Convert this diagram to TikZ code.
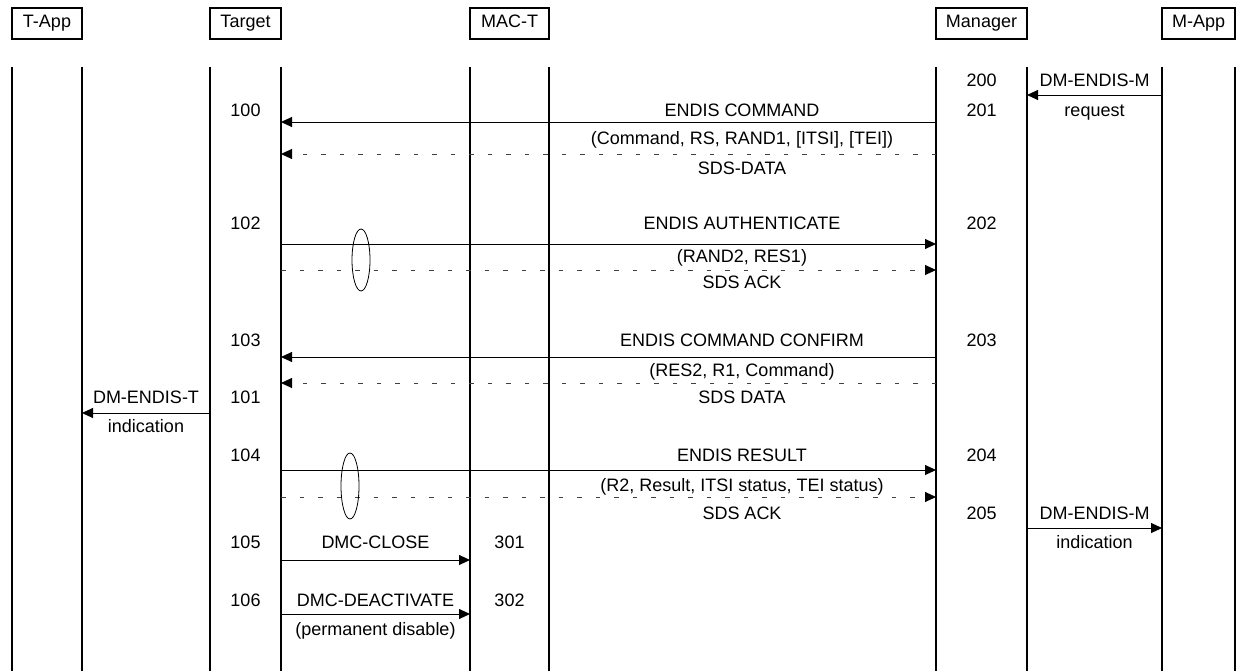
\documentclass[tikz,border=0pt]{standalone}
\usepackage{fontspec}
\setmainfont{Liberation Sans}
\usetikzlibrary{arrows.meta,shapes.geometric}
\begin{document}
\begin{tikzpicture}[x=1pt,y=-1pt,
  hdr/.style={draw, line width=1.8pt, inner sep=0pt, minimum height=31pt,
    text height=13pt, text depth=4pt, font=\fontsize{18}{21}\selectfont},
  life/.style={line width=2.2pt},
  msg/.style={line width=0.9pt, -{Triangle[length=11pt,width=10pt]}},
  ack/.style={line width=0.9pt, draw=black!75, dash pattern=on 4.5pt off 14pt,
    -{Triangle[length=11pt,width=10pt,color=black]}},
  lbl/.style={anchor=base, inner sep=0pt, font=\fontsize{18}{21}\selectfont},
  loopmark/.style={draw, ellipse, line width=0.8pt, inner sep=0pt}
]
\useasboundingbox (0,0) rectangle (1238,671);

% headers
\node[hdr, minimum width=70pt] (tapp) at (47,23.5) {T-App};
\node[hdr, minimum width=71pt] (tgt) at (245.5,23.5) {Target};
\node[hdr, minimum width=79pt] (mac) at (509.5,23.5) {MAC-T};
\node[hdr, minimum width=91pt] (mgr) at (981.5,23.5) {Manager};
\node[hdr, minimum width=73pt] (mapp) at (1198.5,23.5) {M-App};

% lifelines
\foreach \n/\x in {tappL/12, tappR/82, tgtL/210, tgtR/281, macL/470, macR/549,
                   mgrL/936, mgrR/1027, mappL/1162, mappR/1235} {
  \coordinate (\n-top) at (\x,67);
  \coordinate (\n-bot) at (\x,671);
  \draw[life] (\n-top) -- (\n-bot);
}

% message rows
\coordinate (r95) at (0,95);
\coordinate (r122) at (0,122);
\coordinate (r154) at (0,154);
\coordinate (r244) at (0,244);
\coordinate (r270) at (0,270);
\coordinate (r357) at (0,357);
\coordinate (r383) at (0,383);
\coordinate (r413) at (0,413);
\coordinate (r470) at (0,470);
\coordinate (r497) at (0,497);
\coordinate (r528) at (0,528);
\coordinate (r560) at (0,560);
\coordinate (r614) at (0,614);

\draw[msg] (mappL-top |- r95) -- (mgrR-top |- r95);
\draw[msg] (mgrL-top |- r122) -- (tgtR-top |- r122);
\draw[ack] (mgrL-top |- r154) -- (tgtR-top |- r154);
\draw[msg] (tgtR-top |- r244) -- (mgrL-top |- r244);
\draw[ack] (tgtR-top |- r270) -- (mgrL-top |- r270);
\draw[msg] (mgrL-top |- r357) -- (tgtR-top |- r357);
\draw[ack] (mgrL-top |- r383) -- (tgtR-top |- r383);
\draw[msg] (tgtL-top |- r413) -- (tappR-top |- r413);
\draw[msg] (tgtR-top |- r470) -- (mgrL-top |- r470);
\draw[ack] (tgtR-top |- r497) -- (mgrL-top |- r497);
\draw[msg] (mgrR-top |- r528) -- (mappL-top |- r528);
\draw[msg] (tgtR-top |- r560) -- (macL-top |- r560);
\draw[msg] (tgtR-top |- r614) -- (macL-top |- r614);

% loop marks
\node[loopmark, minimum width=18pt, minimum height=62pt] (lp1) at (361,260) {};
\node[loopmark, minimum width=18pt, minimum height=66pt] (lp2) at (350,486) {};

% labels: step numbers
\node[lbl] (n200) at (981.5,86.5) {200};
\node[lbl] (n100) at (245.5,116.5) {100};
\node[lbl] (n201) at (981.5,116.5) {201};
\node[lbl] (n102) at (245.5,229.5) {102};
\node[lbl] (n202) at (981.5,229.5) {202};
\node[lbl] (n103) at (245.5,346.5) {103};
\node[lbl] (n203) at (981.5,346.5) {203};
\node[lbl] (n101) at (245.5,403.5) {101};
\node[lbl] (n104) at (245.5,461.5) {104};
\node[lbl] (n204) at (981.5,461.5) {204};
\node[lbl] (n205) at (981.5,519.5) {205};
\node[lbl] (n105) at (245.5,548.5) {105};
\node[lbl] (n301) at (509.5,548.5) {301};
\node[lbl] (n106) at (245.5,606.5) {106};
\node[lbl] (n302) at (509.5,606.5) {302};

% labels: primitives
\node[lbl] (dmm1) at (1094.5,86.5) {DM-ENDIS-M};
\node[lbl] (req) at (1094.5,116.5) {request};
\node[lbl] (dmt) at (146,403.5) {DM-ENDIS-T};
\node[lbl] (indt) at (146,432.5) {indication};
\node[lbl] (dmm2) at (1094.5,519.5) {DM-ENDIS-M};
\node[lbl] (indm) at (1094.5,548.5) {indication};
\node[lbl] (close) at (375.5,548.5) {DMC-CLOSE};
\node[lbl] (deact) at (375.5,606.5) {DMC-DEACTIVATE};
\node[lbl] (perm) at (375.5,635.5) {(permanent disable)};

% labels: messages
\node[lbl] (m1) at (742,116.5) {ENDIS COMMAND};
\node[lbl] (m1p) at (742,144.5) {(Command, RS, RAND1, [ITSI], [TEI])};
\node[lbl] (m1s) at (742,174.5) {SDS-DATA};
\node[lbl] (m2) at (742,229.5) {ENDIS AUTHENTICATE};
\node[lbl] (m2p) at (742,262.5) {(RAND2, RES1)};
\node[lbl] (m2s) at (742,288.5) {SDS ACK};
\node[lbl] (m3) at (742,346.5) {ENDIS COMMAND CONFIRM};
\node[lbl] (m3p) at (742,376.5) {(RES2, R1, Command)};
\node[lbl] (m3s) at (742,403.5) {SDS DATA};
\node[lbl] (m4) at (742,461.5) {ENDIS RESULT};
\node[lbl] (m4p) at (742,491.5) {(R2, Result, ITSI status, TEI status)};
\node[lbl] (m4s) at (742,519.5) {SDS ACK};
\end{tikzpicture}
\end{document}
